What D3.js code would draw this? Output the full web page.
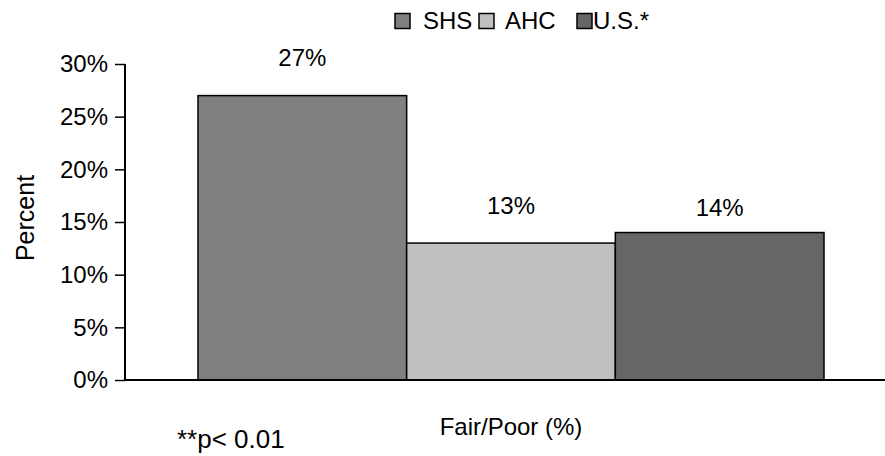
<!DOCTYPE html>
<html>
<head>
<meta charset="utf-8">
<script src="https://cdn.jsdelivr.net/npm/d3@7"></script>
<style>
  html, body { margin: 0; padding: 0; background: #fff; }
  svg { display: block; }
  text { font-family: "Liberation Sans", Arial, sans-serif; fill: #000; }
</style>
</head>
<body>
<svg id="chart" width="885" height="456"></svg>
<script>
// Self-rated health: share reporting Fair/Poor
const categories = ["Fair/Poor (%)"];
const seriesNames = ["SHS", "AHC", "U.S.*"];
const seriesValues = [27, 13, 14];
const seriesColors = ["#808080", "#c0c0c0", "#666666"];
const yTicks = [0, 5, 10, 15, 20, 25, 30];
const footnote = "**p< 0.01";

const svg = d3.select("#chart");
const fontSize = 24;

const plot = { left: 125, right: 897, top: 64, bottom: 380 };

const y = d3.scaleLinear().domain([0, 30]).range([plot.bottom, plot.top]);

const x0 = d3.scaleBand()
  .domain(categories)
  .range([plot.left, plot.right])
  .paddingInner(0)
  .paddingOuter(0.1166);

const x1 = d3.scaleBand()
  .domain(seriesNames)
  .range([0, x0.bandwidth()])
  .padding(0);

// Bars
const group = svg.selectAll("g.cat")
  .data(categories)
  .join("g")
  .attr("class", "cat")
  .attr("transform", d => `translate(${x0(d)},0)`);

const bars = seriesNames.map((name, i) => ({ name, value: seriesValues[i], color: seriesColors[i] }));

group.selectAll("rect")
  .data(bars)
  .join("rect")
  .attr("x", d => x1(d.name))
  .attr("y", d => y(d.value))
  .attr("width", x1.bandwidth())
  .attr("height", d => y(0) - y(d.value))
  .attr("fill", d => d.color)
  .attr("stroke", "#000")
  .attr("stroke-width", 1.5);

// Value labels above bars
const labelLift = [30, 29, 17];
group.selectAll("text.val")
  .data(bars)
  .join("text")
  .attr("class", "val")
  .attr("x", d => x1(d.name) + x1.bandwidth() / 2)
  .attr("y", (d, i) => y(d.value) - labelLift[i])
  .attr("text-anchor", "middle")
  .attr("font-size", fontSize)
  .text(d => d.value + "%");

// Y axis
const yAxis = d3.axisLeft(y)
  .tickValues(yTicks)
  .tickFormat(d => d + "%")
  .tickSize(10)
  .tickPadding(7);

const gy = svg.append("g")
  .attr("transform", `translate(${plot.left},0)`)
  .call(yAxis);
gy.select(".domain").attr("stroke", "#000").attr("stroke-width", 2).attr("d", `M0,${plot.top}V${plot.bottom}`);
gy.selectAll(".tick line").attr("stroke", "#000").attr("stroke-width", 1.5);
gy.selectAll(".tick text")
  .attr("font-size", fontSize)
  .attr("font-family", "Liberation Sans, Arial, sans-serif")
  .attr("fill", "#000");

// X axis baseline
svg.append("line")
  .attr("x1", plot.left).attr("x2", 885)
  .attr("y1", y(0)).attr("y2", y(0))
  .attr("stroke", "#000").attr("stroke-width", 2);

// Category label
svg.selectAll("text.cat")
  .data(categories)
  .join("text")
  .attr("class", "cat")
  .attr("x", d => x0(d) + x0.bandwidth() / 2)
  .attr("y", 435)
  .attr("text-anchor", "middle")
  .attr("font-size", fontSize)
  .text(d => d);

// Y axis title
svg.append("text")
  .attr("transform", `translate(34,${(plot.top + plot.bottom) / 2 - 4}) rotate(-90)`)
  .attr("text-anchor", "middle")
  .attr("font-size", 25)
  .text("Percent");

// Footnote
svg.append("text")
  .attr("x", 177)
  .attr("y", 448)
  .attr("font-size", 26)
  .text(footnote);

// Legend
const legendX = [395, 479, 577];
const legendTextX = [423, 505, 593];
const legend = svg.append("g");
seriesNames.forEach((name, i) => {
  legend.append("rect")
    .attr("x", legendX[i]).attr("y", 13.5)
    .attr("width", 15).attr("height", 15)
    .attr("fill", seriesColors[i])
    .attr("stroke", "#000").attr("stroke-width", 1.5);
  legend.append("text")
    .attr("x", legendTextX[i])
    .attr("y", 29)
    .attr("font-size", fontSize)
    .text(name);
});
</script>
</body>
</html>
